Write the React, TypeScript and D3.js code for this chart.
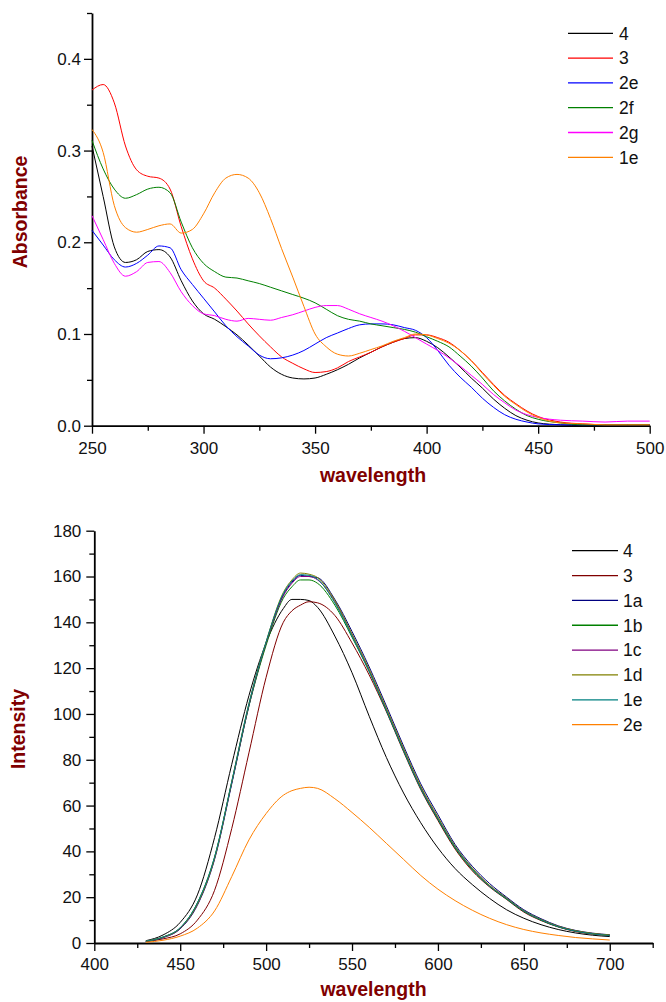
import React, { useEffect, useRef } from 'react';
import * as d3 from 'd3';

const FONT = '"Liberation Sans", Arial, Helvetica, sans-serif';
const TITLE_COLOR = '#800000';

// ---- absorbance panel (top) ----
const absWl = [250, 255, 260, 265, 270, 275, 280, 285, 290, 295, 300, 305, 310, 315, 320, 325, 330, 335, 340, 345,
  350, 355, 360, 365, 370, 375, 380, 385, 390, 395, 400, 405, 410, 415, 420, 425, 430, 435, 440, 445, 450,
  460, 470, 480, 490, 500];

const abs4 = [0.305, 0.25, 0.195, 0.178, 0.181, 0.19, 0.192, 0.184, 0.158, 0.136, 0.122, 0.116, 0.108, 0.099, 0.088,
  0.076, 0.064, 0.056, 0.052, 0.051, 0.052, 0.056, 0.061, 0.067, 0.074, 0.08, 0.086, 0.091, 0.095, 0.096, 0.092,
  0.085, 0.075, 0.064, 0.052, 0.041, 0.029, 0.019, 0.011, 0.006, 0.003, 0.001, 0, 0, 0, 0];
const abs3 = [0.366, 0.372, 0.352, 0.305, 0.279, 0.272, 0.27, 0.258, 0.217, 0.182, 0.158, 0.15, 0.138, 0.125, 0.111,
  0.098, 0.086, 0.075, 0.068, 0.062, 0.058, 0.059, 0.063, 0.07, 0.075, 0.08, 0.086, 0.091, 0.095, 0.099, 0.099,
  0.096, 0.091, 0.082, 0.071, 0.058, 0.045, 0.033, 0.024, 0.016, 0.01, 0.004, 0.002, 0.001, 0.001, 0.001];
const abs2e = [0.213, 0.197, 0.181, 0.173, 0.177, 0.186, 0.196, 0.194, 0.17, 0.154, 0.139, 0.124, 0.109, 0.097, 0.087,
  0.077, 0.073, 0.074, 0.077, 0.082, 0.089, 0.096, 0.101, 0.106, 0.11, 0.111, 0.111, 0.11, 0.107, 0.104, 0.096,
  0.082, 0.066, 0.053, 0.042, 0.03, 0.02, 0.012, 0.007, 0.004, 0.002, 0.001, 0.001, 0.001, 0.001, 0.001];
const abs2f = [0.311, 0.28, 0.258, 0.248, 0.252, 0.258, 0.26, 0.254, 0.222, 0.194, 0.177, 0.168, 0.162, 0.161, 0.158,
  0.155, 0.151, 0.147, 0.143, 0.139, 0.134, 0.127, 0.12, 0.116, 0.114, 0.111, 0.109, 0.107, 0.105, 0.102, 0.097,
  0.092, 0.086, 0.076, 0.065, 0.052, 0.038, 0.027, 0.018, 0.011, 0.007, 0.003, 0.001, 0.001, 0.001, 0.001];
const abs2g = [0.229, 0.203, 0.177, 0.163, 0.168, 0.178, 0.179, 0.167, 0.146, 0.131, 0.122, 0.12, 0.116, 0.114, 0.117,
  0.116, 0.115, 0.118, 0.121, 0.125, 0.129, 0.131, 0.131, 0.127, 0.122, 0.118, 0.114, 0.109, 0.103, 0.096, 0.089,
  0.082, 0.074, 0.065, 0.055, 0.045, 0.034, 0.025, 0.017, 0.012, 0.009, 0.006, 0.005, 0.004, 0.005, 0.005];
const abs1e = [0.323, 0.298, 0.24, 0.216, 0.211, 0.214, 0.218, 0.22, 0.21, 0.214, 0.231, 0.254, 0.27, 0.274, 0.27,
  0.254, 0.226, 0.193, 0.162, 0.13, 0.1, 0.086, 0.078, 0.076, 0.079, 0.083, 0.087, 0.092, 0.096, 0.1, 0.099,
  0.095, 0.09, 0.082, 0.071, 0.057, 0.044, 0.032, 0.023, 0.015, 0.009, 0.003, 0.002, 0.001, 0.001, 0.001];

const absNames = ['4', '3', '2e', '2f', '2g', '1e'];
const absColors = ['#000000', '#ff0000', '#0000ff', '#008000', '#ff00ff', '#ff8000'];
const absValues = [abs4, abs3, abs2e, abs2f, abs2g, abs1e];

const absXTicks = [250, 300, 350, 400, 450, 500];
const absXMinor = [275, 325, 375, 425, 475];
const absYTicks = [0, 0.1, 0.2, 0.3, 0.4];
const absYMinor = [0.05, 0.15, 0.25, 0.35, 0.45];

// ---- fluorescence panel (bottom) ----
const flWl = [430, 440, 450, 460, 470, 480, 490, 500, 510, 515, 520, 525, 530, 540, 550, 560, 570, 580, 590, 600,
  610, 620, 630, 640, 650, 660, 670, 680, 690, 700];

const fl4 = [1, 3.5, 9, 21, 46, 78, 108, 131, 146, 150, 150, 149.5, 146.5, 134, 118, 99, 81, 65.5, 52.5, 41.5,
  32.5, 25.5, 19.5, 14.5, 10.8, 8, 5.9, 4.4, 3.4, 2.8];
const fl3 = [0.6, 1.8, 4, 10, 23, 50, 83, 116, 140, 145, 147.5, 149, 148.5, 143, 131, 117, 101, 83.5, 67, 53.5,
  41, 31.5, 24.5, 19, 13.5, 9.8, 7, 5, 3.9, 3.3];
const fl1a = [0.7, 2.3, 6.2, 16.5, 36.5, 69.5, 103.5, 131, 152, 157.5, 160.5, 160, 159.5, 150, 136, 120.5, 103.5, 86,
  69.5, 56, 43, 33.5, 26, 20, 14.5, 10.6, 7.5, 5.5, 4.3, 3.6];
const fl1b = [0.8, 2.6, 6.6, 17.5, 37.5, 70, 103.5, 130, 150.5, 155.5, 158.5, 158.5, 157, 147.5, 133.5, 118.5, 101.5,
  84, 67.5, 54, 41.5, 32, 24.8, 19.2, 13.8, 10, 7.1, 5.2, 4, 3.3];
const fl1c = [0.8, 2.5, 6.4, 17, 37, 70, 104, 131, 151.5, 157, 160, 160, 158.5, 149, 134.5, 119, 102, 84.5, 68, 54.5,
  42, 32.5, 25, 19.5, 14, 10.2, 7.2, 5.3, 4.1, 3.4];
const fl1d = [0.8, 2.5, 6.5, 17, 37, 70.5, 104.5, 131.5, 153, 158.5, 161.5, 161, 159.5, 149.5, 135, 119.5, 102.5, 85,
  68.5, 55, 42.3, 32.7, 25.2, 19.6, 14.1, 10.3, 7.3, 5.4, 4.2, 3.5];
const fl1e = [0.8, 2.6, 6.7, 17.5, 37.5, 70.5, 104.5, 131.5, 152.5, 158, 160.8, 160.5, 158.8, 148.5, 134, 118.5,
  101.5, 84, 67.5, 54.2, 41.8, 32.2, 24.8, 19.3, 13.9, 10.1, 7.1, 5.2, 4, 3.3];
const fl2e = [0.3, 1.2, 3, 6.5, 14, 29, 45, 56.5, 64.5, 66.5, 67.5, 68, 67.5, 63, 57, 50.5, 43.5, 36.5, 29.5, 23.5,
  18.5, 14.3, 10.8, 8, 5.9, 4.4, 3.3, 2.4, 1.8, 1.3];

const flNames = ['4', '3', '1a', '1b', '1c', '1d', '1e', '2e'];
const flColors = ['#000000', '#800000', '#000080', '#008000', '#800080', '#808000', '#008080', '#ff8000'];
const flValues = [fl4, fl3, fl1a, fl1b, fl1c, fl1d, fl1e, fl2e];

const flXTicks = [400, 450, 500, 550, 600, 650, 700];
const flXMinor = [425, 475, 525, 575, 625, 675, 725];
const flYTicks = [0, 20, 40, 60, 80, 100, 120, 140, 160, 180];
const flYMinor = [10, 30, 50, 70, 90, 110, 130, 150, 170];

const panels = [
  {
    wl: absWl, names: absNames, colors: absColors, values: absValues,
    xDomain: [250, 500], xRange: [92, 649.7],
    yDomain: [0, 0.45], yRange: [425.7, 13],
    xTicks: absXTicks, xMinor: absXMinor, yTicks: absYTicks, yMinor: absYMinor,
    yFormat: d3.format('.1f'), yPad: 3, xPad: 8,
    yTitle: 'Absorbance', yTitlePos: [27, 212],
    xTitlePos: [373, 482],
    legend: { x1: 568, x2: 613, tx: 619, y0: 33.3, dy: 24.8 },
  },
  {
    wl: flWl, names: flNames, colors: flColors, values: flValues,
    xDomain: [400, 725], xRange: [94.3, 652.7],
    yDomain: [0, 180], yRange: [943, 530.7],
    xTicks: flXTicks, xMinor: flXMinor, yTicks: flYTicks, yMinor: flYMinor,
    yFormat: d3.format('d'), yPad: 5, xPad: 7,
    yTitle: 'Intensity', yTitlePos: [25, 729],
    xTitlePos: [373.5, 996],
    legend: { x1: 572, x2: 618, tx: 623, y0: 550.7, dy: 24.85 },
  },
];

function drawPanel(root, p) {
  const x = d3.scaleLinear().domain(p.xDomain).range(p.xRange);
  const y = d3.scaleLinear().domain(p.yDomain).range(p.yRange);
  const g = root.append('g');

  // minor ticks
  g.append('g')
    .attr('transform', `translate(0,${p.yRange[0]})`)
    .call(d3.axisBottom(x).tickValues(p.xMinor).tickSize(5).tickFormat(() => '').tickSizeOuter(0))
    .call(a => a.select('.domain').remove());
  g.append('g')
    .attr('transform', `translate(${p.xRange[0]},0)`)
    .call(d3.axisLeft(y).tickValues(p.yMinor).tickSize(5).tickFormat(() => '').tickSizeOuter(0))
    .call(a => a.select('.domain').remove());

  // major axes
  const xa = g.append('g')
    .attr('transform', `translate(0,${p.yRange[0]})`)
    .call(d3.axisBottom(x).tickValues(p.xTicks).tickSize(8).tickPadding(p.xPad).tickSizeOuter(0));
  const ya = g.append('g')
    .attr('transform', `translate(${p.xRange[0]},0)`)
    .call(d3.axisLeft(y).tickValues(p.yTicks).tickSize(8).tickPadding(p.yPad).tickFormat(p.yFormat).tickSizeOuter(0));

  [xa, ya].forEach(a => {
    a.attr('font-family', FONT).attr('font-size', 17);
    a.select('.domain').attr('stroke', '#000').attr('stroke-width', 1.8);
    a.selectAll('text').attr('fill', '#111');
  });
  g.selectAll('.tick line').attr('stroke', '#000').attr('stroke-width', 1.3);

  // data lines
  const line = d3.line()
    .x((d, i) => x(p.wl[i]))
    .y(d => y(d))
    .curve(d3.curveMonotoneX);
  p.values.forEach((vals, k) => {
    g.append('path')
      .attr('d', line(vals))
      .attr('fill', 'none')
      .attr('stroke', p.colors[k])
      .attr('stroke-width', 1);
  });

  // legend
  const lg = g.append('g').attr('font-family', FONT).attr('font-size', 17.5);
  p.names.forEach((name, k) => {
    const yy = p.legend.y0 + k * p.legend.dy;
    lg.append('line')
      .attr('x1', p.legend.x1).attr('x2', p.legend.x2)
      .attr('y1', yy).attr('y2', yy)
      .attr('stroke', p.colors[k]).attr('stroke-width', 1.3);
    lg.append('text')
      .attr('x', p.legend.tx).attr('y', yy)
      .attr('dy', '0.36em')
      .attr('fill', '#111')
      .text(name);
  });

  // axis titles
  g.append('text')
    .attr('x', p.xTitlePos[0]).attr('y', p.xTitlePos[1])
    .attr('text-anchor', 'middle')
    .attr('font-family', FONT).attr('font-size', 19.5).attr('font-weight', 'bold')
    .attr('fill', TITLE_COLOR)
    .text('wavelength');
  g.append('text')
    .attr('transform', `translate(${p.yTitlePos[0]},${p.yTitlePos[1]}) rotate(-90)`)
    .attr('text-anchor', 'middle')
    .attr('font-family', FONT).attr('font-size', 19.5).attr('font-weight', 'bold')
    .attr('fill', TITLE_COLOR)
    .text(p.yTitle);
}

export default function App() {
  const ref = useRef(null);

  useEffect(() => {
    const svg = d3.select(ref.current);
    svg.selectAll('*').remove();
    panels.forEach(p => drawPanel(svg, p));
  }, []);

  return (
    <svg
      ref={ref}
      width={666}
      height={1002}
      style={{ position: 'absolute', left: 0, top: 0, background: '#fff' }}
    />
  );
}
